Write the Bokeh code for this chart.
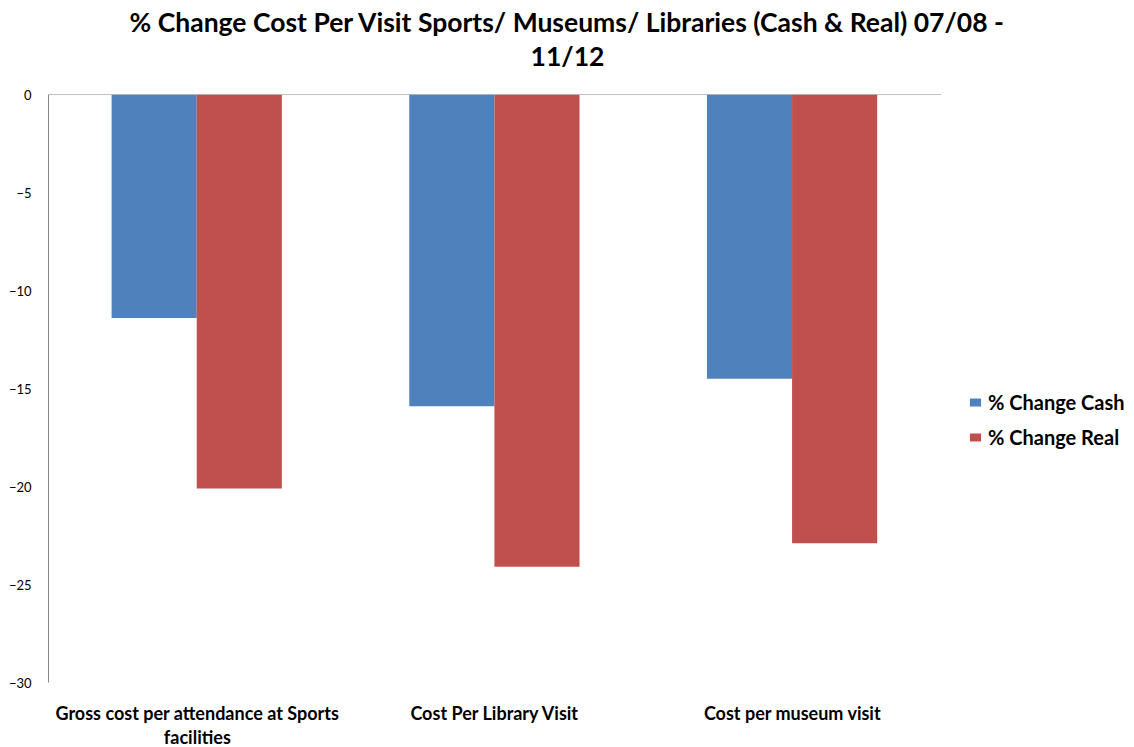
from bokeh.plotting import figure
from bokeh.layouts import column
from bokeh.models import Range1d, Legend, LegendItem, Span, ColumnDataSource, FixedTicker
from bokeh.core.properties import value
from bokeh.transform import dodge
from bokeh.embed import file_html
from bokeh.resources import INLINE

categories = ["Gross cost per attendance at Sports\nfacilities", "Cost Per Library Visit", "Cost per museum visit"]
series_names = ["% Change Cash", "% Change Real"]
change_cash = [-11.4, -15.9, -14.5]
change_real = [-20.1, -24.1, -22.9]
y_ticks = [0, -5, -10, -15, -20, -25, -30]
title_text = "% Change Cost Per Visit Sports/ Museums/ Libraries (Cash & Real) 07/08 -\n11/12"

BLUE = "#4F81BD"
RED = "#C0504D"
FONT = "Lato"

pos = [i + 0.5 for i in range(len(categories))]
src = ColumnDataSource(dict(pos=pos, cash=change_cash, real=change_real))

# ---- title strip (its frame is aligned with the chart frame, which starts 48px in) ----
t = figure(frame_width=1086, frame_height=84, output_backend="svg", toolbar_location=None,
           x_range=Range1d(48, 1134), y_range=Range1d(84, 0), min_border=0)
t.outline_line_color = None
t.axis.visible = False
t.grid.visible = False
t.text(x=[567], y=[5], text=[title_text], text_align="center", text_baseline="top",
       text_font=value(FONT), text_font_style="bold", text_font_size="26.5px",
       text_color="#000000", text_line_height=1.08)

# ---- main chart ----
p = figure(frame_width=893, frame_height=588, output_backend="svg", toolbar_location=None,
           x_range=Range1d(0, len(categories)), y_range=Range1d(-30, 0),
           min_border_left=48, min_border_top=10, min_border_bottom=65, min_border_right=193)
p.outline_line_color = None
p.xgrid.visible = False
p.ygrid.visible = False

r1 = p.vbar(x=dodge("pos", -0.145), top="cash", bottom=0, width=0.286,
            source=src, fill_color=BLUE, line_color=None)
r2 = p.vbar(x=dodge("pos", 0.141), top="real", bottom=0, width=0.286,
            source=src, fill_color=RED, line_color=None)

p.add_layout(Span(location=0, dimension="width", line_color="#868686", line_width=1))

ya = p.yaxis[0]
ya.ticker = FixedTicker(ticks=y_ticks)
ya.axis_line_color = "#868686"
ya.major_tick_line_color = None
ya.minor_tick_line_color = None
ya.major_label_text_font = FONT
ya.major_label_text_font_size = "13px"
ya.major_label_text_color = "#000000"
ya.major_label_standoff = 11

xa = p.xaxis[0]
xa.ticker = FixedTicker(ticks=pos)
xa.major_label_overrides = {x: c for x, c in zip(pos, categories)}
xa.axis_line_color = None
xa.major_tick_line_color = None
xa.minor_tick_line_color = None
xa.major_label_text_font = FONT
xa.major_label_text_font_style = "bold"
xa.major_label_text_font_size = "18px"
xa.major_label_text_color = "#000000"
xa.major_label_text_line_height = 1.11
xa.major_label_standoff = 13

legend = Legend(items=[LegendItem(label=series_names[0], renderers=[r1]),
                       LegendItem(label=series_names[1], renderers=[r2])],
                location=(27, 233), border_line_color=None, background_fill_alpha=0,
                label_text_font=FONT, label_text_font_style="bold", label_text_font_size="20px",
                label_text_color="#000000",
                glyph_width=14, glyph_height=10, spacing=11, label_standoff=6,
                padding=0, margin=0)
p.add_layout(legend, "right")

layout = column(t, p, spacing=0)
open("out.html", "w").write(file_html(layout, INLINE))
